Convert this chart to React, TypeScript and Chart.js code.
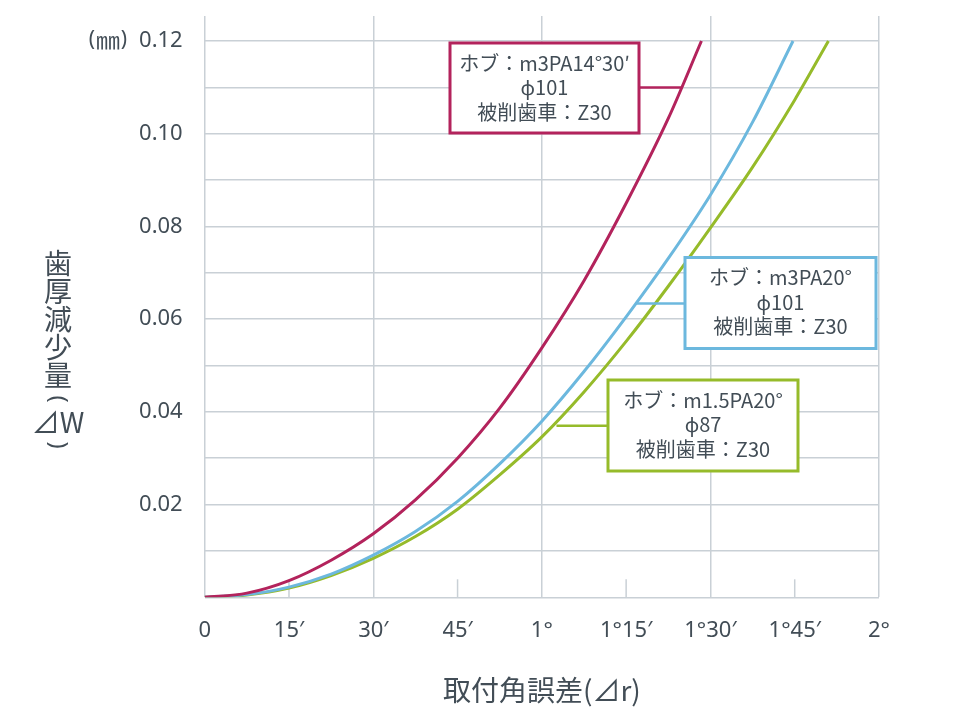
import React, { useEffect, useRef } from "react";
import { Chart, registerables } from "chart.js";

Chart.register(...registerables);

// 取付角誤差 in minutes of arc, 歯厚減少量 in mm
const hobAX = [0, 7.5, 15, 22.5, 30, 37.5, 45, 52.5, 60, 67.5, 75, 82.5, 88.4];
const hobAY = [0, 0.0009, 0.0036, 0.008, 0.0137, 0.021, 0.03, 0.0408, 0.0538, 0.0683, 0.085, 0.1033, 0.12];

const hobBX = [0, 7.5, 15, 22.5, 30, 37.5, 45, 52.5, 60, 67.5, 75, 82.5, 90, 97.5, 104.7];
const hobBY = [0, 0.0006, 0.0022, 0.005, 0.0091, 0.0142, 0.0207, 0.0288, 0.038, 0.0487, 0.0605, 0.0731, 0.0868, 0.1025, 0.12];

const hobCX = [0, 7.5, 15, 22.5, 30, 37.5, 45, 52.5, 60, 67.5, 75, 82.5, 90, 97.5, 105, 111];
const hobCY = [0, 0.0005, 0.002, 0.0047, 0.0084, 0.0131, 0.019, 0.0264, 0.0346, 0.0443, 0.0552, 0.0671, 0.0797, 0.0928, 0.1073, 0.12];

const xTickValues = [0, 15, 30, 45, 60, 75, 90, 105, 120];
const xTickLabels = ["0", "15′", "30′", "45′", "1°", "1°15′", "1°30′", "1°45′", "2°"];
const xMajor = [0, 30, 60, 90, 120];
const xMinor = [15, 45, 75, 105];

const yTickValues = [0, 0.01, 0.02, 0.03, 0.04, 0.05, 0.06, 0.07, 0.08, 0.09, 0.1, 0.11, 0.12];
const yTickLabels = ["", "", "0.02", "", "0.04", "", "0.06", "", "0.08", "", "0.10", "", "0.12"];

const noteA = ["ホブ：m3PA14°30′", "ϕ101", "被削歯車：Z30"];
const noteB = ["ホブ：m3PA20°", "ϕ101", "被削歯車：Z30"];
const noteC = ["ホブ：m1.5PA20°", "ϕ87", "被削歯車：Z30"];

const MAGENTA = "#b3235c";
const BLUE = "#6cb8de";
const GREEN = "#96bb2a";
const GRID = "#c9d0d6";
const TEXT = "#424d56";
const LATIN = '"Noto Sans", "Noto Sans CJK JP", sans-serif';
const CJK = '"Noto Sans CJK JP", "Noto Sans", sans-serif';

const notes = [
  { lines: noteA, color: MAGENTA, box: [450, 43, 189, 90], at: [84.9, 0.11] },
  { lines: noteB, color: BLUE, box: [685, 257.5, 191, 91], at: [76.7, 0.0634] },
  { lines: noteC, color: GREEN, box: [608, 380, 190, 91], at: [62.6, 0.037] },
];

const pts = (xs: number[], ys: number[]) => xs.map((x, i) => ({ x, y: ys[i] }));

const overlay = {
  id: "overlay",
  beforeDatasetsDraw(chart: any) {
    const { ctx, chartArea, scales } = chart;
    ctx.save();
    ctx.strokeStyle = GRID;
    ctx.lineWidth = 1.5;
    xMinor.forEach((v) => {
      const px = scales.x.getPixelForValue(v);
      ctx.beginPath();
      ctx.moveTo(px, chartArea.bottom);
      ctx.lineTo(px, chartArea.bottom - 18);
      ctx.stroke();
    });
    ctx.restore();
  },
  afterDatasetsDraw(chart: any) {
    const { ctx, scales } = chart;
    ctx.save();
    notes.forEach((n) => {
      const [bx, by, bw, bh] = n.box;
      const px = scales.x.getPixelForValue(n.at[0]);
      const py = scales.y.getPixelForValue(n.at[1]);
      const edge = px > bx + bw ? bx + bw : bx;
      ctx.strokeStyle = n.color;
      ctx.lineWidth = 2.5;
      ctx.beginPath();
      ctx.moveTo(edge, py);
      ctx.lineTo(px, py);
      ctx.stroke();
      ctx.fillStyle = "#ffffff";
      ctx.fillRect(bx, by, bw, bh);
      ctx.lineWidth = 3;
      ctx.strokeRect(bx, by, bw, bh);
      ctx.fillStyle = TEXT;
      ctx.font = `20px ${CJK}`;
      ctx.textAlign = "center";
      ctx.textBaseline = "middle";
      n.lines.forEach((t, i) => ctx.fillText(t, bx + bw / 2, by + 20 + i * 24.5));
    });
    ctx.restore();
  },
  afterDraw(chart: any) {
    const { ctx, chartArea, scales } = chart;
    ctx.save();
    ctx.fillStyle = TEXT;
    ctx.textAlign = "center";
    ctx.textBaseline = "middle";
    // x title
    ctx.font = `28px ${CJK}`;
    ctx.fillText("取付角誤差(⊿r)", (chartArea.left + chartArea.right) / 2, 690);
    // y title, written vertically
    const col = ["歯", "厚", "減", "少", "量"];
    col.forEach((c, i) => ctx.fillText(c, 58, 263 + i * 28.2));
    ctx.fillText("⊿W", 58, 422);
    ctx.font = `24px ${LATIN}`;
    [["(", 399], [")", 445]].forEach(([c, cy]) => {
      ctx.save();
      ctx.translate(58, cy as number);
      ctx.rotate(Math.PI / 2);
      ctx.fillText(c as string, 0, 0);
      ctx.restore();
    });
    // unit
    const uy = scales.y.getPixelForValue(0.12) - 1;
    ctx.font = `21px ${LATIN}`;
    ctx.fillText("(", 92, uy);
    ctx.fillText(")", 124, uy);
    ctx.font = `24px ${CJK}`;
    ctx.fillText("㎜", 108, uy);
    ctx.restore();
  },
};

const App: React.FC = () => {
  const canvasRef = useRef<HTMLCanvasElement | null>(null);

  useEffect(() => {
    document.body.style.margin = "0";
    if (!canvasRef.current) return;
    const ctx = canvasRef.current.getContext("2d");
    if (!ctx) return;

    const line = (data: { x: number; y: number }[], color: string) => ({
      data,
      borderColor: color,
      backgroundColor: color,
      borderWidth: 3,
      pointRadius: 0,
      cubicInterpolationMode: "monotone" as const,
      fill: false,
    });

    const chart = new Chart(ctx, {
      type: "line",
      data: {
        datasets: [
          line(pts(hobAX, hobAY), MAGENTA),
          line(pts(hobBX, hobBY), BLUE),
          line(pts(hobCX, hobCY), GREEN),
        ],
      },
      options: {
        animation: false,
        responsive: true,
        maintainAspectRatio: false,
        layout: { padding: { top: 16, right: 85, bottom: 0, left: 0 } },
        plugins: { legend: { display: false }, tooltip: { enabled: false } },
        scales: {
          x: {
            type: "linear",
            min: 0,
            max: 120,
            afterBuildTicks: (s: any) => {
              s.ticks = xTickValues.map((value) => ({ value }));
            },
            afterFit: (s: any) => {
              s.height = 118.7;
              s.paddingLeft = 0;
              s.paddingRight = 0;
            },
            ticks: {
              autoSkip: false,
              maxRotation: 0,
              padding: 20,
              color: TEXT,
              font: { size: 22, family: LATIN },
              callback: (v: any) => xTickLabels[xTickValues.indexOf(Number(v))] ?? "",
            },
            grid: {
              color: (c: any) => (xMajor.includes(c.tick?.value) ? GRID : "rgba(0,0,0,0)"),
              lineWidth: 1.5,
              drawTicks: false,
            },
            border: { display: false },
          },
          y: {
            type: "linear",
            min: 0,
            max: 0.1254,
            afterBuildTicks: (s: any) => {
              s.ticks = yTickValues.map((value) => ({ value }));
            },
            afterFit: (s: any) => {
              s.width = 204.7;
              s.paddingTop = 0;
              s.paddingBottom = 0;
            },
            ticks: {
              autoSkip: false,
              padding: 22,
              color: TEXT,
              font: { size: 22, family: LATIN },
              callback: (v: any) => {
                const i = yTickValues.findIndex((t) => Math.abs(t - Number(v)) < 1e-6);
                return i >= 0 ? yTickLabels[i] : "";
              },
            },
            grid: { color: GRID, lineWidth: 1.5, drawTicks: false },
            border: { display: false },
          },
        },
      },
      plugins: [overlay],
    });

    return () => {
      chart.destroy();
    };
  }, []);

  return (
    <div style={{ position: "relative", width: 964, height: 716, background: "#fff" }}>
      <canvas ref={canvasRef}></canvas>
    </div>
  );
};

export default App;
